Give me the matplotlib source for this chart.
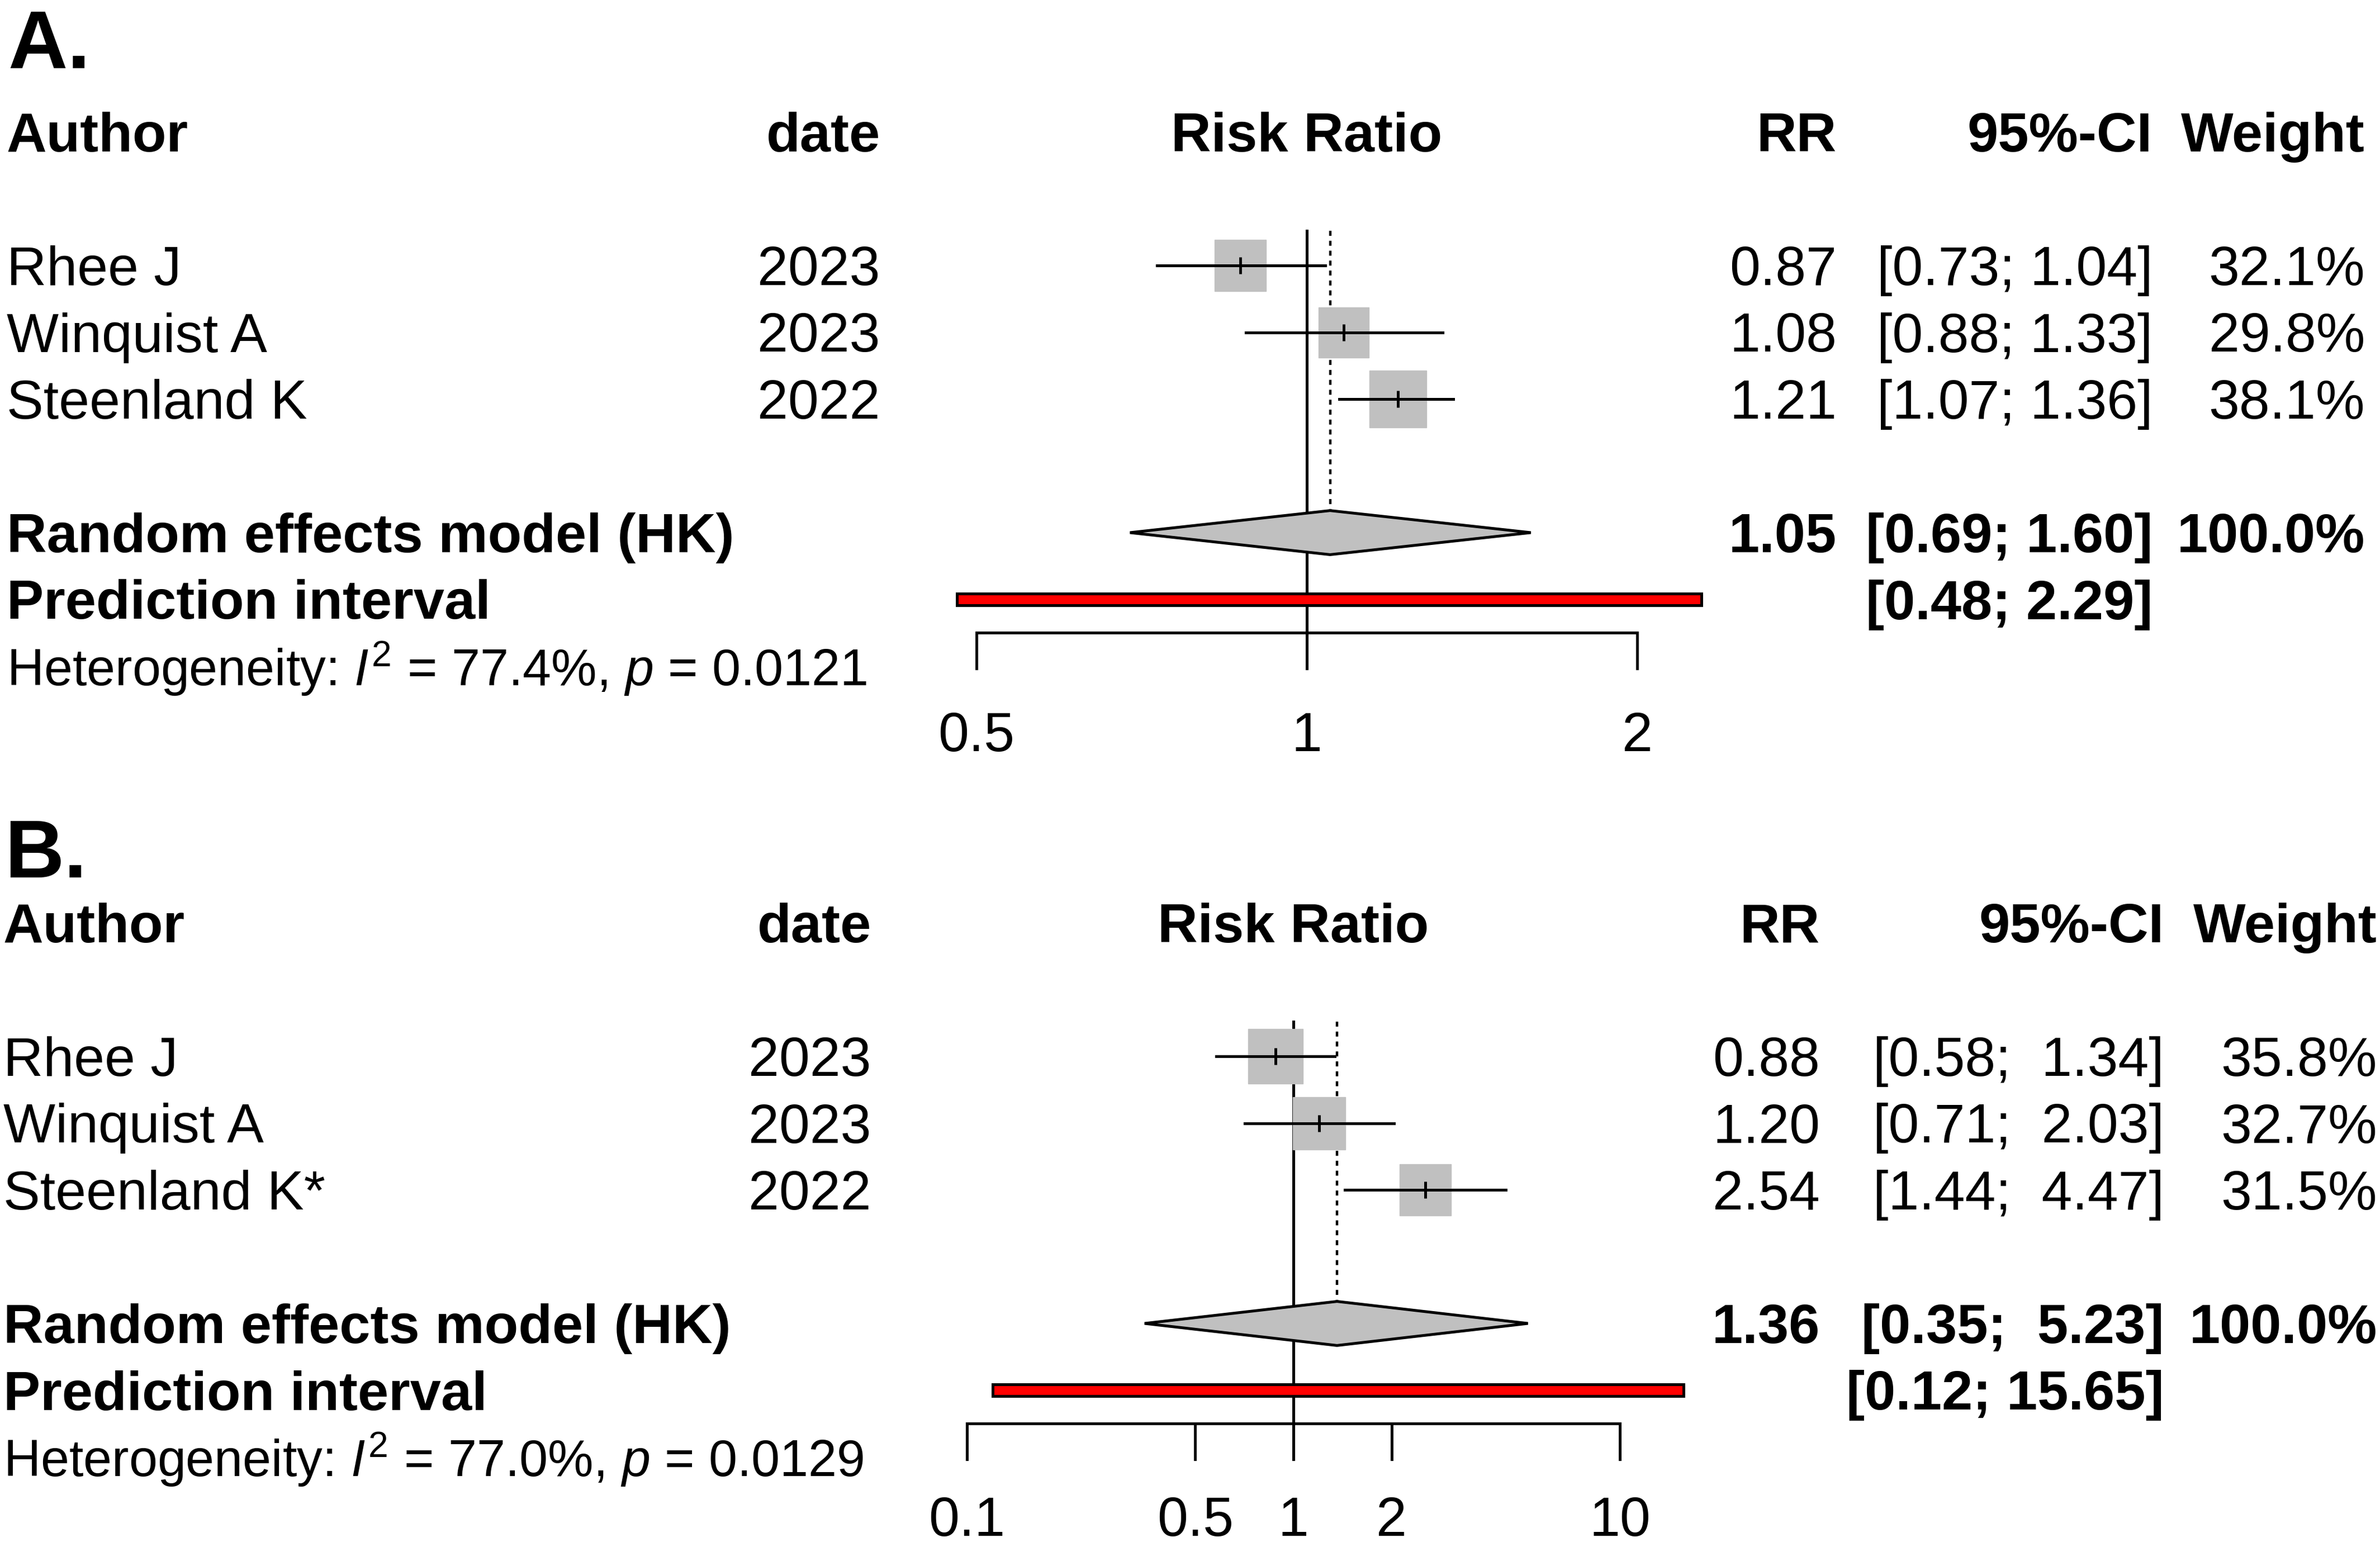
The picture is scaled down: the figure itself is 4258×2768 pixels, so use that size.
import numpy as np
import matplotlib
matplotlib.use('Agg')
import matplotlib.pyplot as plt
from matplotlib.patches import Polygon, Rectangle

plt.rcParams['font.family'] = 'Liberation Sans'
plt.rcParams['mathtext.fontset'] = 'custom'
plt.rcParams['mathtext.rm'] = 'Liberation Sans'
plt.rcParams['mathtext.it'] = 'Liberation Sans:italic'
plt.rcParams['mathtext.bf'] = 'Liberation Sans:bold'

# panel A data
authors_a = ['Rhee J', 'Winquist A', 'Steenland K']
years_a = ['2023', '2023', '2022']
rr_a = [0.87, 1.08, 1.21]
lo_a = [0.73, 0.88, 1.07]
hi_a = [1.04, 1.33, 1.36]
wt_a = [32.1, 29.8, 38.1]
pooled_a = [1.05, 0.69, 1.60]
pred_a = [0.48, 2.29]
het_a = ['77.4', '0.0121']
ticks_a = [0.5, 1, 2]

# panel B data
authors_b = ['Rhee J', 'Winquist A', 'Steenland K*']
years_b = ['2023', '2023', '2022']
rr_b = [0.88, 1.20, 2.54]
lo_b = [0.58, 0.71, 1.44]
hi_b = [1.34, 2.03, 4.47]
wt_b = [35.8, 32.7, 31.5]
pooled_b = [1.36, 0.35, 5.23]
pred_b = [0.12, 15.65]
het_b = ['77.0', '0.0129']
ticks_b = [0.1, 0.5, 1, 2, 10]

W, H = 4258, 2768
DPI = 100
RS = 119.5      # row spacing in px
FS = 71         # text size
BFS = 71.5      # bold text size
GREY = '#C0C0C0'
LW = 3.6

fig = plt.figure(figsize=(W / DPI, H / DPI), dpi=DPI)
tax = fig.add_axes([0, 0, 1, 1])
tax.set_xlim(0, W)
tax.set_ylim(H, 0)
tax.axis('off')


def panel(label, label_y, authors, years, rr, lo, hi, wt, pooled, pred, het, ticks,
          y0, base, cx, scale, cols, lab_r):
    # layout: pixel = cx + scale*log_base(v), row r -> y0 + RS*r
    ax = fig.add_axes([0, 0, 1, 1])
    ax.set_xscale('log')
    ax.set_xlim(base ** ((0 - cx) / scale), base ** ((W - cx) / scale))
    ax.set_ylim((H - y0) / RS, -y0 / RS)
    ax.axis('off')
    ax.patch.set_alpha(0)

    def ty(r):
        return y0 + RS * r + 35

    xa, xd, xrr, xci, xw = cols
    tax.text(xa + 2, label_y, label, fontsize=106, fontweight='bold',
             va='baseline', ha='left')
    # header
    tax.text(xa, ty(-2), 'Author', fontsize=BFS, fontweight='bold', va='baseline')
    tax.text(xd, ty(-2), 'date', fontsize=BFS, fontweight='bold', va='baseline', ha='right')
    ax.text(1, -2 + 35 / RS, 'Risk Ratio', fontsize=BFS, fontweight='bold',
            va='baseline', ha='center')
    tax.text(xrr, ty(-2), 'RR', fontsize=BFS, fontweight='bold', va='baseline', ha='right')
    tax.text(xci, ty(-2), '95%-CI', fontsize=BFS, fontweight='bold', va='baseline', ha='right')
    tax.text(xw, ty(-2), 'Weight', fontsize=BFS, fontweight='bold', va='baseline', ha='right')

    wid = max(len(f'{v:.2f}') for v in list(hi) + [pooled[2], pred[1]])

    def ci(a, b):
        return f'[{a:.2f}; {b:{wid}.2f}]'

    ax_top = -0.52
    axis_r = 5.5
    tick_bot = 6.03
    dh = 0.33
    # reference lines
    ax.plot([1, 1], [ax_top, tick_bot], color='black', lw=LW, zorder=1)
    ax.plot([pooled[0], pooled[0]], [ax_top, 4 - dh], color='black', lw=3.2,
            ls=(0, (2, 2)), zorder=1)

    for i in range(len(authors)):
        tax.text(xa, ty(i), authors[i], fontsize=FS, va='baseline')
        tax.text(xd, ty(i), years[i], fontsize=FS, va='baseline', ha='right')
        tax.text(xrr, ty(i), f'{rr[i]:.2f}', fontsize=FS, va='baseline', ha='right')
        tax.text(xci, ty(i), ci(lo[i], hi[i]), fontsize=FS, va='baseline', ha='right')
        tax.text(xw, ty(i), f'{wt[i]:.1f}%', fontsize=FS, va='baseline', ha='right')
        side = 16.4 * np.sqrt(wt[i]) * 72 / DPI
        ax.plot([rr[i]], [i], marker='s', ms=side, color=GREY, mec=GREY, zorder=2)
        ax.plot([lo[i], hi[i]], [i, i], color='black', lw=LW, zorder=3)
        ax.plot([rr[i]], [i], marker='|', ms=21, mew=LW, color='black', zorder=3)

    # pooled
    tax.text(xa, ty(4), 'Random effects model (HK)', fontsize=BFS, fontweight='bold', va='baseline')
    tax.text(xrr, ty(4), f'{pooled[0]:.2f}', fontsize=BFS, fontweight='bold', va='baseline', ha='right')
    tax.text(xci, ty(4), ci(pooled[1], pooled[2]), fontsize=BFS, fontweight='bold',
             va='baseline', ha='right')
    tax.text(xw, ty(4), '100.0%', fontsize=BFS, fontweight='bold', va='baseline', ha='right')
    ax.add_patch(Polygon([(pooled[1], 4), (pooled[0], 4 - dh), (pooled[2], 4),
                          (pooled[0], 4 + dh)], closed=True, fc=GREY, ec='black',
                         lw=LW, zorder=4))

    # prediction interval
    tax.text(xa, ty(5), 'Prediction interval', fontsize=BFS, fontweight='bold', va='baseline')
    tax.text(xci, ty(5), ci(pred[0], pred[1]), fontsize=BFS, fontweight='bold',
             va='baseline', ha='right')
    ph = 0.09
    ax.add_patch(Rectangle((pred[0], 5 - ph), pred[1] - pred[0], 2 * ph,
                           fc='red', ec='black', lw=LW, zorder=4))

    tax.text(xa, ty(6), r'Heterogeneity: $I^2$ = ' + het[0] + r'%, $p$ = ' + het[1],
             fontsize=66, va='baseline')

    # x axis
    ax.plot([ticks[0], ticks[-1]], [axis_r, axis_r], color='black', lw=LW, zorder=1)
    for t in ticks:
        ax.plot([t, t], [axis_r, tick_bot], color='black', lw=LW, zorder=1)
        ax.text(t, lab_r, f'{t:g}', fontsize=FS, ha='center', va='center')


panel('A.', 122, authors_a, years_a, rr_a, lo_a, hi_a, wt_a, pooled_a, pred_a, het_a,
      ticks_a, 475, 2, 2338, 591, (12, 1575, 3286, 3851, 4231), 7.06)
panel('B.', 1570, authors_b, years_b, rr_b, lo_b, hi_b, wt_b, pooled_b, pred_b, het_b,
      ticks_b, 1890, 10, 2314, 584, (6, 1559, 3256, 3872, 4253), 6.97)

fig.savefig('out.png', dpi=DPI)
